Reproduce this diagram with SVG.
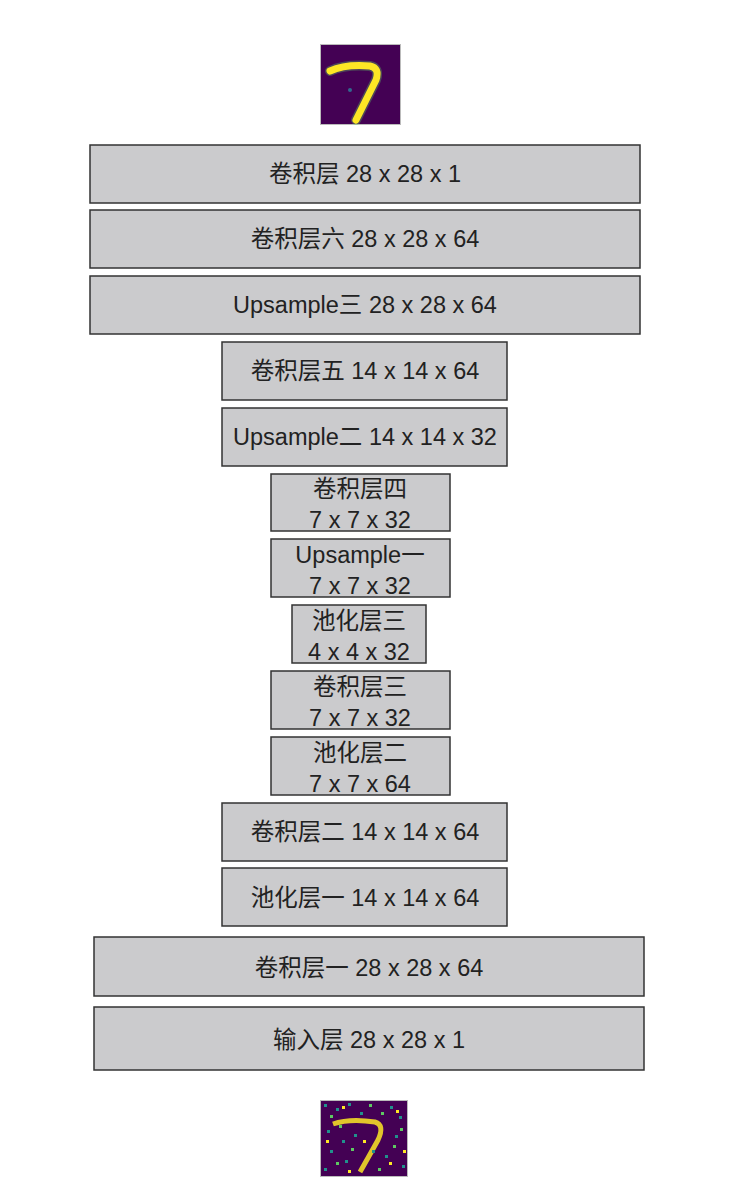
<svg xmlns="http://www.w3.org/2000/svg" width="740" height="1202" viewBox="0 0 740 1202">
<style>
.b{fill:#cbcbcd;stroke:#333;stroke-width:1.5}
.t{font-family:"Liberation Sans","Noto Sans CJK SC",sans-serif;font-size:23.5px;fill:#222;text-anchor:middle}
</style>
<rect width="740" height="1202" fill="#fff"/>
<g id="output-image">
<rect x="320.5" y="44.5" width="80" height="80" fill="#440154" stroke="#bbb"/>
<path d="M330 71 Q345 64 370 66 Q380 68 376 80 Q366 100 356 120" fill="none" stroke="#5ec962" stroke-width="10" stroke-opacity="0.35" stroke-linecap="round"/>
<path d="M330 71 Q345 64 370 66 Q380 68 376 80 Q366 100 356 120" fill="none" stroke="#fde725" stroke-width="7" stroke-linecap="round"/>
<circle cx="350" cy="90" r="2" fill="#31688e"/>
</g>
<g id="n1"><rect class="b" x="90" y="145" width="550" height="58"/><text class="t" x="365" y="182">卷积层 28 x 28 x 1</text></g>
<g id="n2"><rect class="b" x="90" y="210" width="550" height="58"/><text class="t" x="365" y="247">卷积层六 28 x 28 x 64</text></g>
<g id="n3"><rect class="b" x="90" y="276" width="550" height="58"/><text class="t" x="365" y="313">Upsample三 28 x 28 x 64</text></g>
<g id="n4"><rect class="b" x="222" y="342" width="285" height="58"/><text class="t" x="365" y="379">卷积层五 14 x 14 x 64</text></g>
<g id="n5"><rect class="b" x="222" y="408" width="285" height="58"/><text class="t" x="365" y="445">Upsample二 14 x 14 x 32</text></g>
<g id="n6"><rect class="b" x="271" y="474" width="179" height="57"/><text class="t" x="360" y="497">卷积层四</text><text class="t" x="360" y="528">7 x 7 x 32</text></g>
<g id="n7"><rect class="b" x="271" y="539" width="179" height="58"/><text class="t" x="360" y="563">Upsample一</text><text class="t" x="360" y="594">7 x 7 x 32</text></g>
<g id="n8"><rect class="b" x="292" y="605" width="134" height="58"/><text class="t" x="359" y="629">池化层三</text><text class="t" x="359" y="660">4 x 4 x 32</text></g>
<g id="n9"><rect class="b" x="271" y="671" width="179" height="58"/><text class="t" x="360" y="695">卷积层三</text><text class="t" x="360" y="726">7 x 7 x 32</text></g>
<g id="n10"><rect class="b" x="271" y="737" width="179" height="58"/><text class="t" x="360" y="761">池化层二</text><text class="t" x="360" y="792">7 x 7 x 64</text></g>
<g id="n11"><rect class="b" x="222" y="803" width="285" height="58"/><text class="t" x="365" y="840">卷积层二 14 x 14 x 64</text></g>
<g id="n12"><rect class="b" x="222" y="868" width="285" height="58"/><text class="t" x="365" y="906">池化层一 14 x 14 x 64</text></g>
<g id="n13"><rect class="b" x="94" y="937" width="550" height="59"/><text class="t" x="369" y="976">卷积层一 28 x 28 x 64</text></g>
<g id="n14"><rect class="b" x="94" y="1007" width="550" height="63"/><text class="t" x="369" y="1048">输入层 28 x 28 x 1</text></g>
<g id="input-image">
<rect x="320.5" y="1100.5" width="87" height="76" fill="#440154" stroke="#bbb"/>
<path d="M333 1124 Q350 1118 375 1122 Q385 1125 378 1140 Q368 1158 360 1172" fill="none" stroke="#fde725" stroke-width="5" stroke-opacity="0.85"/>
<g fill="#21918c">
<rect x="324" y="1104" width="3" height="3"/><rect x="336" y="1108" width="3" height="3"/><rect x="348" y="1103" width="3" height="3"/><rect x="360" y="1112" width="3" height="3"/><rect x="390" y="1106" width="3" height="3"/><rect x="399" y="1116" width="3" height="3"/><rect x="327" y="1130" width="3" height="3"/><rect x="342" y="1140" width="3" height="3"/><rect x="330" y="1150" width="3" height="3"/><rect x="395" y="1135" width="3" height="3"/><rect x="385" y="1155" width="3" height="3"/><rect x="402" y="1165" width="3" height="3"/><rect x="324" y="1168" width="3" height="3"/><rect x="345" y="1160" width="3" height="3"/><rect x="372" y="1150" width="3" height="3"/><rect x="354" y="1134" width="3" height="3"/>
</g>
<g fill="#5ec962">
<rect x="330" y="1115" width="3" height="3"/><rect x="369" y="1104" width="3" height="3"/><rect x="381" y="1112" width="3" height="3"/><rect x="339" y="1125" width="3" height="3"/><rect x="393" y="1145" width="3" height="3"/><rect x="336" y="1162" width="3" height="3"/><rect x="378" y="1168" width="3" height="3"/><rect x="400" y="1128" width="3" height="3"/><rect x="351" y="1148" width="3" height="3"/>
</g>
<g fill="#fde725">
<rect x="342" y="1106" width="3" height="3"/><rect x="396" y="1110" width="3" height="3"/><rect x="326" y="1140" width="3" height="3"/><rect x="389" y="1162" width="3" height="3"/><rect x="348" y="1170" width="3" height="3"/><rect x="363" y="1140" width="3" height="3"/><rect x="403" y="1150" width="3" height="3"/>
</g>
</g>
</svg>
